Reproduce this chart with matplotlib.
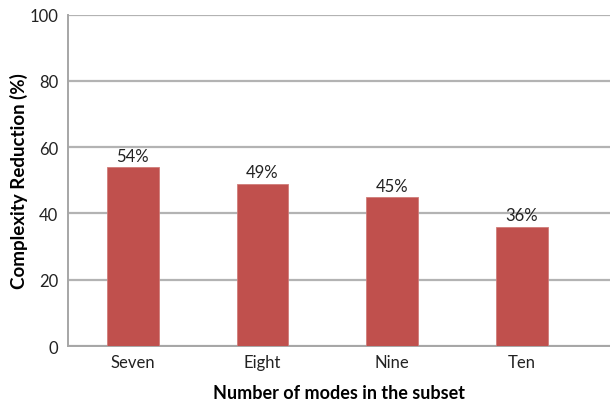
import numpy as np
import matplotlib.pyplot as plt

# dados do gráfico
categorias = ['Seven', 'Eight', 'Nine', 'Ten']
reducao = [54, 49, 45, 36]
rotulos = ['54%', '49%', '45%', '36%']

plt.rcParams['font.family'] = ['Lato', 'DejaVu Sans']

fig = plt.figure(figsize=(6.1, 4.02), dpi=100)
ax = fig.add_axes([0.1115, 0.1368, 0.8885, 0.8243])

x = np.arange(len(categorias))
barras = ax.bar(x, reducao, width=0.4, color='#C0504D', edgecolor='#D07C79', linewidth=0.6, zorder=3)

for b, r in zip(barras, rotulos):
    ax.text(b.get_x() + b.get_width() / 2, b.get_height() + 1.0, r,
            ha='center', va='bottom', fontsize=12, color='#222222')

ax.set_ylim(0, 100)
ax.set_xlim(-0.5, 3.68)
ax.set_yticks(range(0, 101, 20))
ax.set_xticks(x)
ax.set_xticklabels(categorias)
ax.yaxis.grid(True, color='#b3b3b3', linewidth=1.6, zorder=0)
ax.tick_params(axis='both', length=0, labelsize=12, colors='#222222')
ax.tick_params(axis='y', pad=7)
ax.tick_params(axis='x', pad=6)

for lado in ['top', 'right']:
    ax.spines[lado].set_visible(False)
ax.spines['left'].set_color('#a6a6a6')
ax.spines['bottom'].set_color('#a6a6a6')
ax.spines['left'].set_linewidth(1.4)
ax.spines['bottom'].set_linewidth(1.4)

ax.set_ylabel('Complexity Reduction (%)', fontsize=13.5, fontweight='bold', labelpad=1)
ax.set_xlabel('Number of modes in the subset', fontsize=13, fontweight='bold', labelpad=10)

plt.savefig('out.png', dpi=100)
